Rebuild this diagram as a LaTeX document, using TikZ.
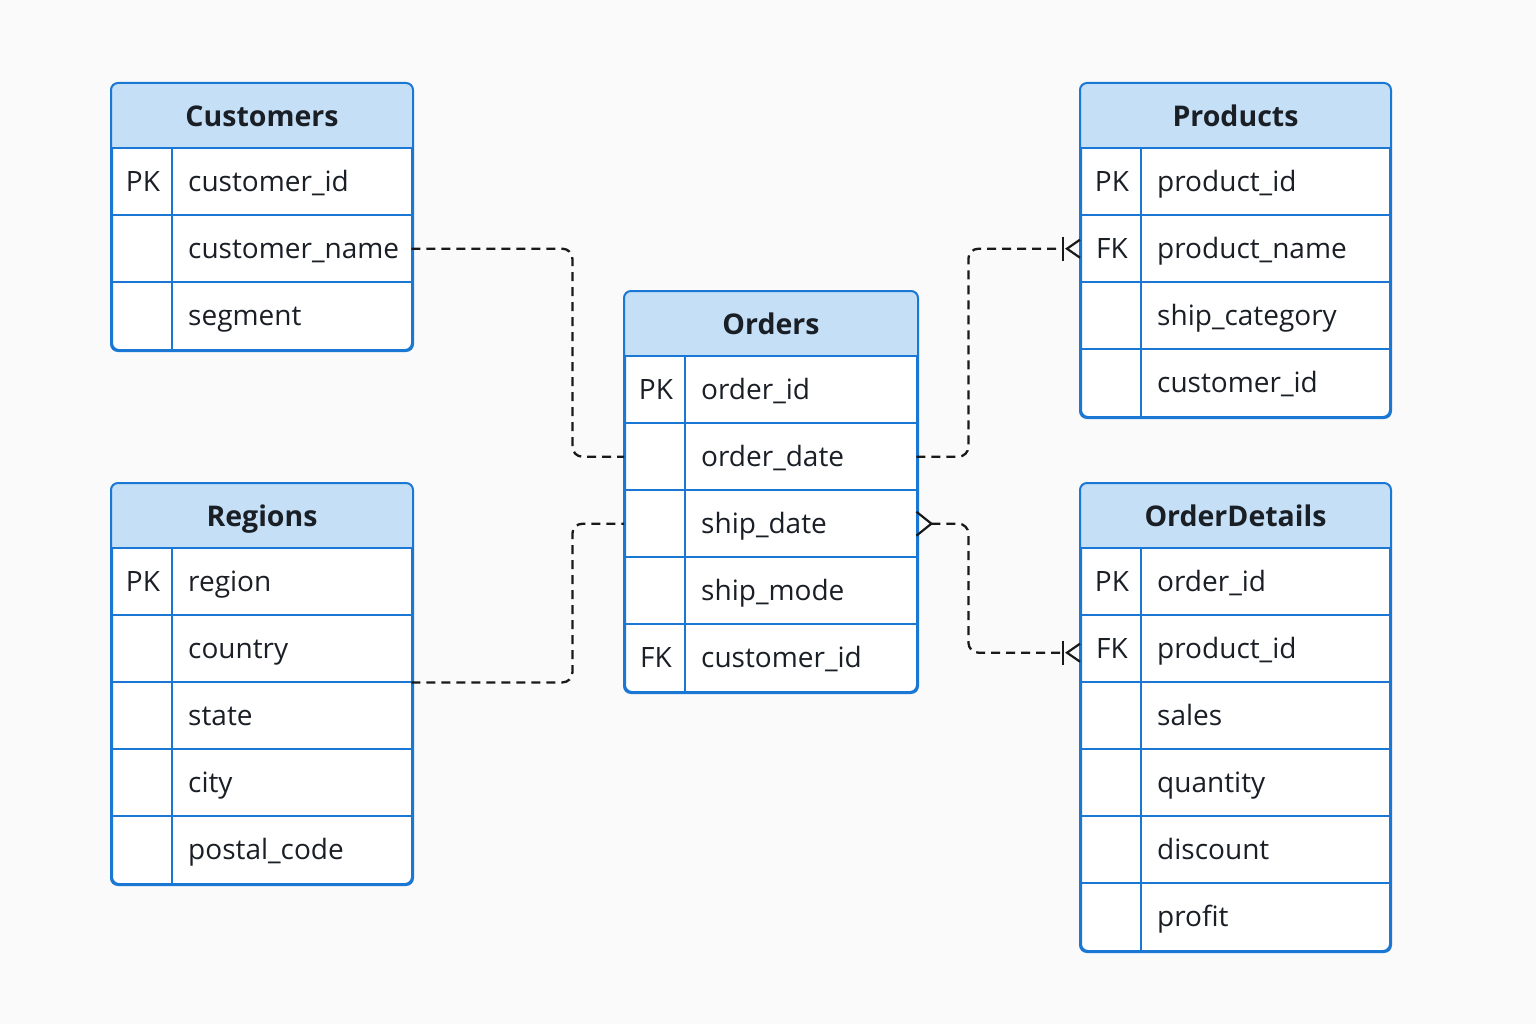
\documentclass[tikz,border=0pt]{standalone}
\usepackage{fontspec}
\setmainfont{Open Sans}
\usetikzlibrary{calc}
\definecolor{bord}{HTML}{1A78D4}
\definecolor{hdr}{HTML}{C5DFF7}
\definecolor{bgc}{HTML}{FAFAFA}
\definecolor{ink}{HTML}{1A1F26}
\tikzset{
  tframe/.style={draw=bord, line width=2pt, rounded corners=7pt, fill=white, anchor=north west, inner sep=0pt},
  rowbox/.style={anchor=north west, inner sep=0pt, minimum height=67pt},
  ttext/.style={font=\fontsize{28.5}{32}\selectfont\bfseries, text=ink, inner sep=0pt, text height=20.5pt, text depth=0pt},
  ftext/.style={font=\fontsize{28}{32}\selectfont, text=ink, anchor=west, inner sep=0pt, text height=20pt, text depth=0pt},
  ktext/.style={font=\fontsize{28}{32}\selectfont, text=ink, inner sep=0pt, text height=20pt, text depth=0pt},
  sep/.style={draw=bord, line width=2pt},
  rel/.style={draw=black!90, line width=2.3pt, dash pattern=on 9pt off 6pt, rounded corners=10pt},
  mk/.style={draw=black!90, line width=2.2pt},
}
% #1 name, #2 x, #3 y, #4 width, #5 rows, #6 title, #7 key/field list
\newcommand\ertable[7]{%
  \pgfmathsetmacro\tabh{65+67*#5}
  \node[tframe, minimum width=#4pt, minimum height=\tabh pt] (#1) at (#2,#3) {};
  \fill[hdr] ($(#1.north west)+(0,65)$) {[rounded corners=7pt] -- (#1.north west) -- (#1.north east)} -- ($(#1.north east)+(0,65)$) -- cycle;
  \draw[sep, rounded corners=7pt] (#1.north west) rectangle (#1.south east);
  \draw[sep] ($(#1.north west)+(0,65)$) -- ($(#1.north east)+(0,65)$);
  \draw[sep] ($(#1.north west)+(61,65)$) -- ($(#1.south west)+(61,0)$);
  \node[ttext] (#1-t) at ($(#1.north)+(0,33)$) {#6};
  \foreach \k/\f [count=\i] in {#7} {
    \pgfmathsetmacro\yy{#3+65+67*(\i-1)}
    \node[rowbox, minimum width=#4pt] (#1-\i) at (#2,\yy) {};
    \node[ktext] (#1-k\i) at ($(#1-\i.west)+(32,0)$) {\k};
    \node[ftext] (#1-f\i) at ($(#1-\i.west)+(77,0)$) {\f};
    \ifnum\i<#5 \draw[sep] (#1-\i.south west) -- (#1-\i.south east);\fi
  }
}
\begin{document}
\begin{tikzpicture}[x=1pt,y=-1pt]
\fill[bgc] (0,0) rectangle (1536,1024);
\useasboundingbox (0,0) rectangle (1536,1024);

\ertable{cust}{111}{83}{300}{3}{Customers}{PK/customer\_id, {}/customer\_name, {}/segment}
\ertable{prod}{1080}{83}{309}{4}{Products}{PK/product\_id, FK/product\_name, {}/ship\_category, {}/customer\_id}
\ertable{ord}{624}{291}{292}{5}{Orders}{PK/order\_id, {}/order\_date, {}/ship\_date, {}/ship\_mode, FK/customer\_id}
\ertable{reg}{111}{483}{300}{5}{Regions}{PK/region, {}/country, {}/state, {}/city, {}/postal\_code}
\ertable{od}{1080}{483}{309}{6}{OrderDetails}{PK/order\_id, FK/product\_id, {}/sales, {}/quantity, {}/discount, {}/profit}

% connectors
\draw[rel] (cust-2.east) -- ++(161,0) |- (ord-2.west);
\draw[rel] (reg-2.south east) -- ++(161,0) |- (ord-3.west);
\draw[rel] (ord-2.east) -- ++(52,0) |- ($(prod-2.west)+(-17,0)$);
\draw[rel] ($(ord-3.east)+(15,0)$) -- ++(37,0) |- ($(od-2.west)+(-17,4)$);

% markers
\draw[mk] ($(prod-2.west)+(-17,-12)$) -- ++(0,24);
\draw[mk] ($(prod-2.west)+(0,-9)$) -- ($(prod-2.west)+(-13,0)$) -- ($(prod-2.west)+(0,9)$);
\draw[mk] ($(od-2.west)+(-17,-8)$) -- ++(0,24);
\draw[mk] ($(od-2.west)+(0,-5)$) -- ($(od-2.west)+(-13,4)$) -- ($(od-2.west)+(0,13)$);
\draw[mk] ($(ord-3.east)+(0,-12)$) -- ($(ord-3.east)+(15,0)$) -- ($(ord-3.east)+(0,12)$);
\end{tikzpicture}
\end{document}
